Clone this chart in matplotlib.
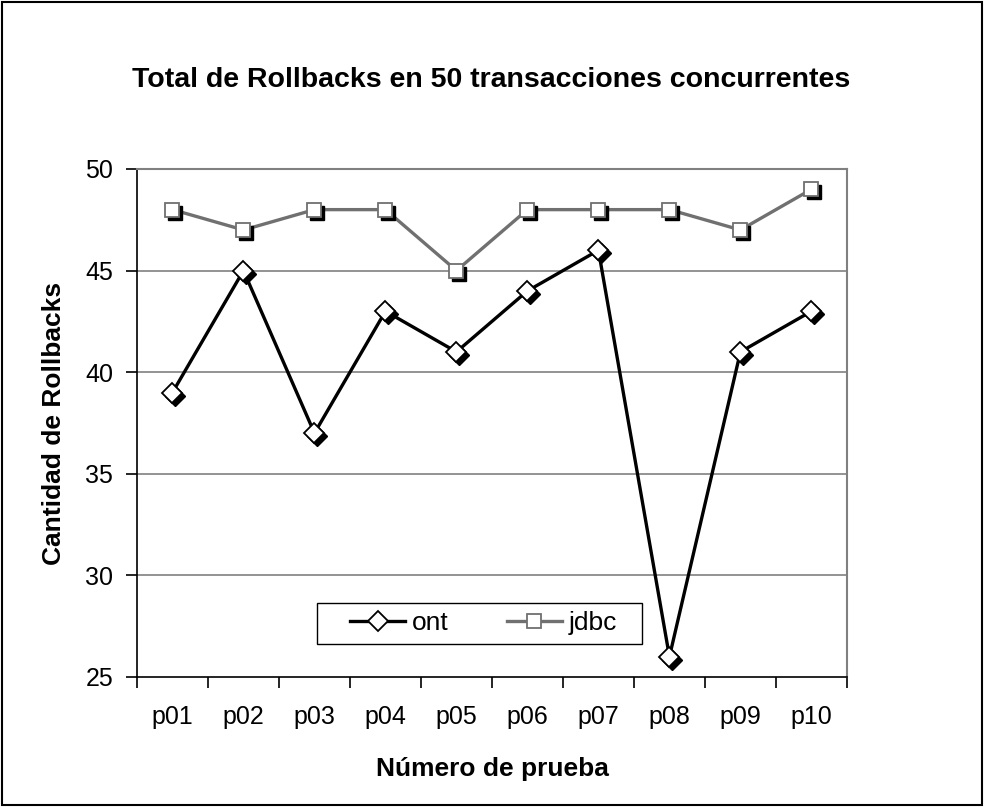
import matplotlib.pyplot as plt
import matplotlib.transforms as mtransforms
from matplotlib.lines import Line2D
from matplotlib.patches import Rectangle

plt.rcParams['font.family'] = ['Liberation Sans', 'DejaVu Sans']

# Rollbacks per test run
pruebas = ['p01', 'p02', 'p03', 'p04', 'p05', 'p06', 'p07', 'p08', 'p09', 'p10']
ont = [39, 45, 37, 43, 41, 44, 46, 26, 41, 43]
jdbc = [48, 47, 48, 48, 45, 48, 48, 48, 47, 49]

fig = plt.figure(figsize=(9.84, 8.07), dpi=100)
ax = fig.add_axes([0.1392, 0.1611, 0.7215, 0.6295])

x = list(range(len(pruebas)))

# drop shadow under the markers, shifted right/down by a few pixels
shadow = ax.transData + mtransforms.ScaledTranslation(3 / 100, -3 / 100, fig.dpi_scale_trans)

ax.plot(x, jdbc, color='#707070', lw=2.4, zorder=3)
ax.plot(x, ont, color='black', lw=2.4, zorder=3)
ax.plot(x, jdbc, ls='none', marker='s', ms=10.5, mfc='black', mec='black',
        transform=shadow, zorder=4)
ax.plot(x, ont, ls='none', marker='D', ms=10, mfc='black', mec='black',
        transform=shadow, zorder=4)
ax.plot(x, jdbc, ls='none', marker='s', ms=10.5, mfc='white', mec='#707070',
        mew=1.3, zorder=5)
ax.plot(x, ont, ls='none', marker='D', ms=10, mfc='white', mec='black',
        mew=1.3, zorder=5)

ax.set_xlim(-0.5, len(pruebas) - 0.5)
ax.set_ylim(25, 50)
ax.set_yticks([25, 30, 35, 40, 45, 50])
ax.set_xticks(x)
ax.set_xticklabels(pruebas)
ax.set_xticks([i - 0.5 for i in range(len(pruebas) + 1)], minor=True)
ax.tick_params(axis='x', which='major', length=0, pad=20, labelsize=18)
ax.tick_params(axis='x', which='minor', length=8, width=1.2, direction='out')
ax.tick_params(axis='y', length=8, width=1.2, direction='out', pad=9, labelsize=18)

for yv in [30, 35, 40, 45]:
    ax.axhline(yv, color='#808080', lw=1.2, zorder=1)

ax.spines['top'].set_color('#808080')
ax.spines['right'].set_color('#808080')
ax.spines['top'].set_linewidth(1.5)
ax.spines['right'].set_linewidth(1.5)
ax.spines['left'].set_linewidth(1.2)
ax.spines['bottom'].set_linewidth(1.2)

ax.set_xlabel('Número de prueba', fontsize=19, fontweight='bold', labelpad=20)
ax.set_ylabel('Cantidad de Rollbacks', fontsize=19, fontweight='bold', labelpad=14)
fig.text(0.499, 0.901, 'Total de Rollbacks en 50 transacciones concurrentes',
         ha='center', va='center', fontsize=20.5, fontweight='bold')

# legend: entries without frame, box drawn separately
handles = [
    Line2D([], [], color='black', lw=2.4, marker='D', ms=10, mfc='white', mec='black', mew=1.3),
    Line2D([], [], color='#707070', lw=2.4, marker='s', ms=10.5, mfc='white', mec='#707070', mew=1.3),
]
ax.legend(handles, ['ont', 'jdbc'], ncol=2, loc='center',
          bbox_to_anchor=(0.488, 0.1053), fontsize=19, frameon=False,
          handlelength=2.1, handletextpad=0.25, columnspacing=2.2, borderpad=0)
ax.add_patch(Rectangle((0.2535, 0.065), 0.4577, 0.0807, transform=ax.transAxes,
                       facecolor='white', edgecolor='black', lw=1.0, zorder=6))
ax.get_legend().set_zorder(7)

# outer chart border
fig.patches.append(Rectangle((0.002, 0.002), 0.996, 0.996, transform=fig.transFigure,
                             fill=False, edgecolor='black', lw=1.5))

fig.savefig('out.png', dpi=100)
